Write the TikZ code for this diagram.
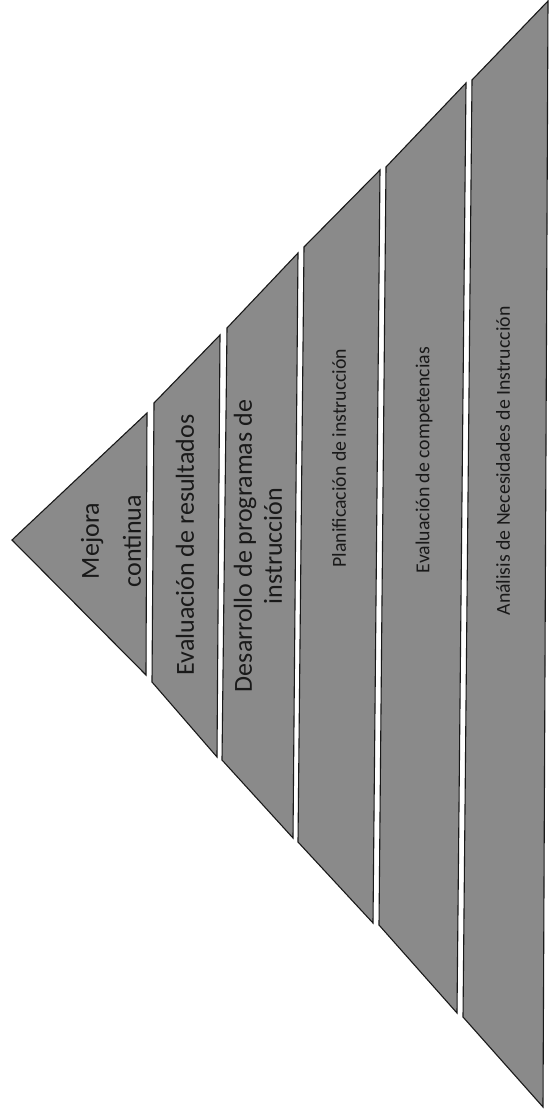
\documentclass[tikz,border=0pt]{standalone}
\usepackage{fontspec}
\newfontfamily\calib{Carlito}
\definecolor{bandgray}{RGB}{138,138,138}
\definecolor{inkc}{RGB}{25,25,25}
\begin{document}
\begin{tikzpicture}[x=1pt,y=-1pt,
  band/.style={fill=bandgray, draw=inkc, line width=1.1pt, line join=miter},
  lbl/.style={rotate=90, text=inkc, inner sep=0pt, font=\calib\fontsize{19.8}{24}\selectfont},
  biglbl/.style={rotate=90, text=inkc, inner sep=0pt, align=center}]
\useasboundingbox (0,0) rectangle (550,1116);
% bands (apex at left, base at right)
\draw[band] (12,540) -- (147,413) -- (146,675) -- cycle;
\draw[band] (154,403) -- (220,335) -- (217,757) -- (152,682) -- cycle;
\draw[band] (227,328) -- (298,253) -- (293,838) -- (222,760) -- cycle;
\draw[band] (304,247) -- (380,170) -- (373,923) -- (298,842) -- cycle;
\draw[band] (386,167) -- (466,83) -- (457,1013) -- (379,925) -- cycle;
\draw[band] (472,80) -- (548,1) -- (543,1107) -- (463,1017) -- cycle;
% labels
\node[biglbl, font=\calib\fontsize{26}{42}\selectfont] (mejora) at (111,541) {Mejora\\continua};
\node[biglbl, font=\calib\fontsize{26}{31}\selectfont] (evres) at (185,545) {Evaluación de resultados};
\node[biglbl, font=\calib\fontsize{26}{30}\selectfont] (desa) at (258,546) {Desarrollo de programas de\\instrucción};
\node[lbl] (plan) at (339,458) {Planificación de instrucción};
\node[lbl] (evcomp) at (424,460) {Evaluación de competencias};
\node[lbl] (anal) at (503,461) {Análisis de Necesidades de Instrucción};
\end{tikzpicture}
\end{document}
